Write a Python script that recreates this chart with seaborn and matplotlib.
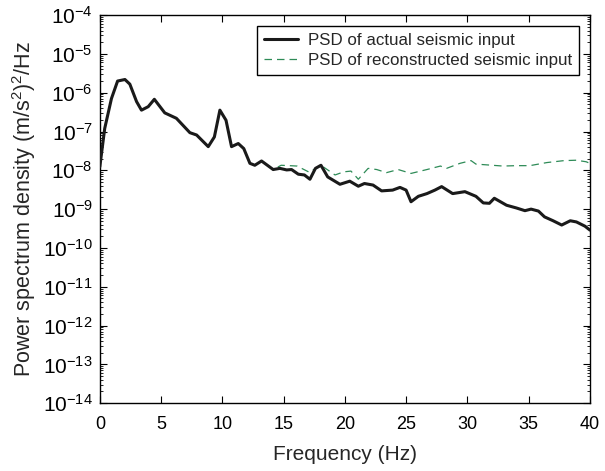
import numpy as np
import pandas as pd
import matplotlib
matplotlib.use("Agg")
import matplotlib.pyplot as plt
import seaborn as sns
from matplotlib.ticker import LogLocator, LogFormatterMathtext, MultipleLocator

# PSD of actual seismic input (log10 of m^2/s^4/Hz)
freq_actual = [0.0, 0.4, 0.95, 1.45, 2.05, 2.45, 3.0, 3.4, 3.95, 4.45, 5.3, 6.25,
               7.35, 7.9, 8.85, 9.35, 9.8, 10.3, 10.75, 11.3, 11.75, 12.25, 12.65,
               13.2, 14.15, 14.7, 15.25, 15.65, 16.2, 16.7, 17.15, 17.6, 18.05,
               18.6, 19.6, 20.4, 21.1, 21.6, 22.3, 23.0, 23.9, 24.5, 25.0, 25.4,
               26.0, 26.7, 27.35, 27.9, 28.8, 29.8, 30.7, 31.3, 31.8, 32.2, 33.2,
               34.0, 34.7, 35.2, 35.8, 36.3, 37.0, 37.7, 38.4, 38.9, 39.6, 40.0]
log_actual = [-7.91, -6.92, -6.15, -5.70, -5.66, -5.78, -6.23, -6.45, -6.36, -6.17,
              -6.52, -6.66, -7.03, -7.09, -7.39, -7.14, -6.45, -6.71, -7.39, -7.31,
              -7.44, -7.82, -7.87, -7.76, -7.98, -7.95, -7.99, -7.98, -8.10, -8.12,
              -8.23, -7.95, -7.87, -8.17, -8.36, -8.28, -8.41, -8.34, -8.38, -8.53,
              -8.51, -8.44, -8.51, -8.81, -8.67, -8.60, -8.51, -8.42, -8.60, -8.55,
              -8.67, -8.84, -8.85, -8.72, -8.90, -8.97, -9.04, -9.00, -9.05, -9.20,
              -9.30, -9.41, -9.30, -9.33, -9.44, -9.54]

# PSD of reconstructed seismic input
freq_recon = [0.0, 0.4, 0.95, 1.45, 2.05, 2.45, 3.0, 3.4, 3.95, 4.45, 5.3, 6.25,
              7.35, 7.9, 8.85, 9.35, 9.8, 10.3, 10.75, 11.3, 11.75, 12.25, 12.65,
              13.2, 14.15, 14.8, 16.1, 17.1, 18.05, 19.2, 19.9, 20.5, 21.1, 21.9,
              22.6, 23.4, 24.35, 25.4, 26.7, 27.8, 28.3, 29.4, 30.3, 30.7, 31.6,
              32.9, 34.0, 35.1, 36.5, 37.9, 38.9, 39.7, 40.0]
log_recon = [-7.91, -6.92, -6.15, -5.70, -5.66, -5.78, -6.23, -6.45, -6.36, -6.17,
             -6.52, -6.66, -7.03, -7.09, -7.39, -7.14, -6.45, -6.71, -7.39, -7.31,
             -7.44, -7.82, -7.87, -7.76, -7.98, -7.87, -7.89, -8.05, -7.87, -8.12,
             -8.04, -8.02, -8.23, -7.95, -7.98, -8.06, -7.98, -8.08, -7.98, -7.89,
             -7.95, -7.82, -7.75, -7.84, -7.86, -7.89, -7.88, -7.88, -7.80, -7.75,
             -7.74, -7.78, -7.82]

df_actual = pd.DataFrame({'f': freq_actual, 'psd': 10.0 ** np.array(log_actual)})
df_recon = pd.DataFrame({'f': freq_recon, 'psd': 10.0 ** np.array(log_recon)})

sns.set_style("ticks")
plt.rcParams['font.family'] = ['Liberation Sans', 'DejaVu Sans']
plt.rcParams['mathtext.fontset'] = 'custom'
plt.rcParams['mathtext.rm'] = 'Liberation Sans'
plt.rcParams['mathtext.it'] = 'Liberation Sans:italic'

fig = plt.figure(figsize=(6.05, 4.71), dpi=100)
ax = fig.add_axes([0.165, 0.144, 0.81, 0.824])

sns.lineplot(data=df_actual, x='f', y='psd', ax=ax, color='#1a1a1a', linewidth=2.2,
             label='PSD of actual seismic input', sort=False)
sns.lineplot(data=df_recon, x='f', y='psd', ax=ax, color='#2e8b57', linewidth=0.9,
             linestyle=(0, (6, 4)), label='PSD of reconstructed seismic input', sort=False)
# black line drawn over the part where both curves coincide
ax.lines[1].set_zorder(2)
ax.lines[0].set_zorder(3)

ax.set_yscale('log')
ax.set_xlim(0, 40)
ax.set_ylim(1e-14, 1e-4)
ax.xaxis.set_major_locator(MultipleLocator(5))
ax.yaxis.set_major_locator(LogLocator(base=10, numticks=20))
ax.yaxis.set_minor_locator(LogLocator(base=10, subs=np.arange(2, 10), numticks=20))
ax.yaxis.set_major_formatter(LogFormatterMathtext())

ax.tick_params(axis='both', which='both', direction='in', top=True, right=True,
               colors='black')
ax.tick_params(axis='both', which='major', length=5, width=0.8)
ax.tick_params(axis='y', which='minor', length=2.5, width=0.6)
ax.tick_params(axis='x', labelsize=13, pad=9)
ax.tick_params(axis='y', labelsize=15, pad=5)
for s in ax.spines.values():
    s.set_linewidth(1.0)
    s.set_color('black')

ax.set_xlabel('Frequency (Hz)', fontsize=15, labelpad=9)
ax.set_ylabel('Power spectrum density (m/s$^2$)$^2$/Hz', fontsize=15.5, labelpad=4)

leg = ax.legend(loc='upper right', fontsize=12.2, frameon=True, fancybox=False,
                edgecolor='black', framealpha=1, borderaxespad=0.65,
                handlelength=2.0, handletextpad=0.6, borderpad=0.4, labelspacing=0.3)
leg.get_frame().set_linewidth(1.0)

fig.savefig('out.png', dpi=100)
